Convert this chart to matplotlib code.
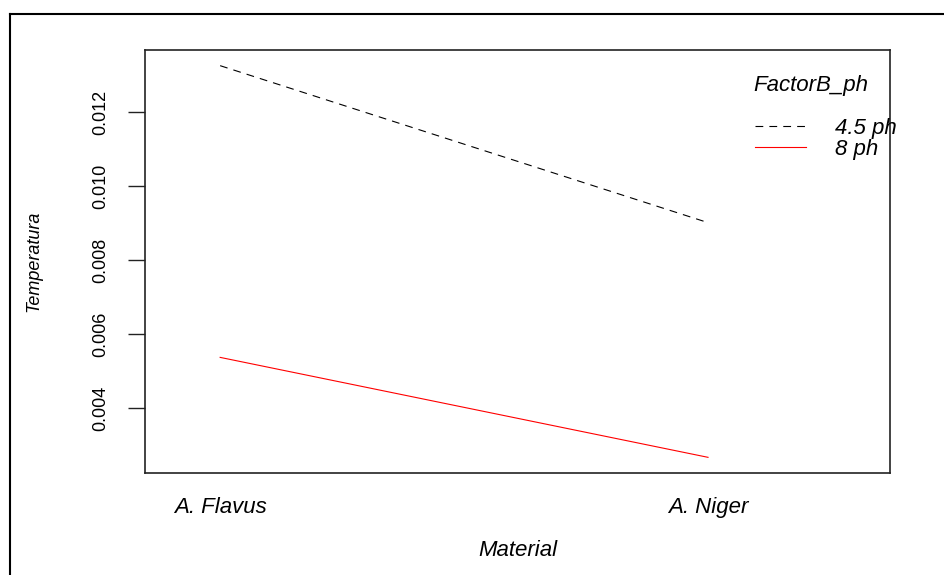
import matplotlib
matplotlib.use('Agg')
from matplotlib import pyplot as plt
from matplotlib.lines import Line2D

# interaction plot data
materials = ['A. Flavus', 'A. Niger']
ph_levels = ['4.5 ph', '8 ph']
temp_45 = [0.01326, 0.00902]
temp_8 = [0.00538, 0.00268]
y_ticks = [0.004, 0.006, 0.008, 0.010, 0.012]

horiz_font = ['Liberation Sans', 'DejaVu Sans']
narrow_font = ['Liberation Sans Narrow', 'Liberation Sans', 'DejaVu Sans']

fig = plt.figure(figsize=(9.45, 5.75), dpi=100)
ax = fig.add_axes([145 / 945, 1 - 473 / 575, 745 / 945, 423 / 575])

x = [1, 2]
ax.plot(x, temp_45, color='black', lw=0.8, linestyle=(0, (7, 5.5)), label=ph_levels[0])
ax.plot(x, temp_8, color='#ff0000', lw=0.8, label=ph_levels[1])

lo = min(temp_8 + temp_45)
hi = max(temp_8 + temp_45)
pad = (hi - lo) * 0.04
ax.set_ylim(lo - pad, hi + pad)
ax.set_xlim(0.846, 2.373)

ax.set_xticks(x)
ax.set_xticklabels(materials, fontstyle='italic', family=horiz_font, fontsize=16)
ax.tick_params(axis='x', length=0, pad=17)

ax.set_yticks(y_ticks)
ax.set_yticklabels([f'{v:.3f}' for v in y_ticks], rotation=90, va='center',
                   family=narrow_font, fontsize=13)
ax.tick_params(axis='y', length=12, width=1, pad=14, color='#222222')

for s in ax.spines.values():
    s.set_linewidth(1.2)
    s.set_color('#222222')

ax.set_xlabel('Material', fontstyle='italic', family=horiz_font, fontsize=16, labelpad=16)
ax.set_ylabel('Temperatura', fontstyle='italic', family=narrow_font, fontsize=13, labelpad=36)

# legend (R style, no frame)
fig.text(753 / 945, 1 - 86 / 575, 'FactorB_ph', fontstyle='italic', family=horiz_font,
         fontsize=16, ha='left', va='center')
ax.legend(loc='center left', bbox_to_anchor=(755 / 945, 1 - 139 / 575),
          bbox_transform=fig.transFigure, frameon=False, borderpad=0, borderaxespad=0,
          labelspacing=0.0, handlelength=2.3, handletextpad=1.3,
          prop={'family': horiz_font, 'style': 'italic', 'size': 16})

# outer frame of the screenshot
fig.add_artist(Line2D([10 / 945, 1], [1 - 14 / 575, 1 - 14 / 575], color='black', lw=1.5,
                      transform=fig.transFigure))
fig.add_artist(Line2D([10 / 945, 10 / 945], [0, 1 - 14 / 575], color='black', lw=1.5,
                      transform=fig.transFigure))

plt.savefig('out.png', dpi=100)
